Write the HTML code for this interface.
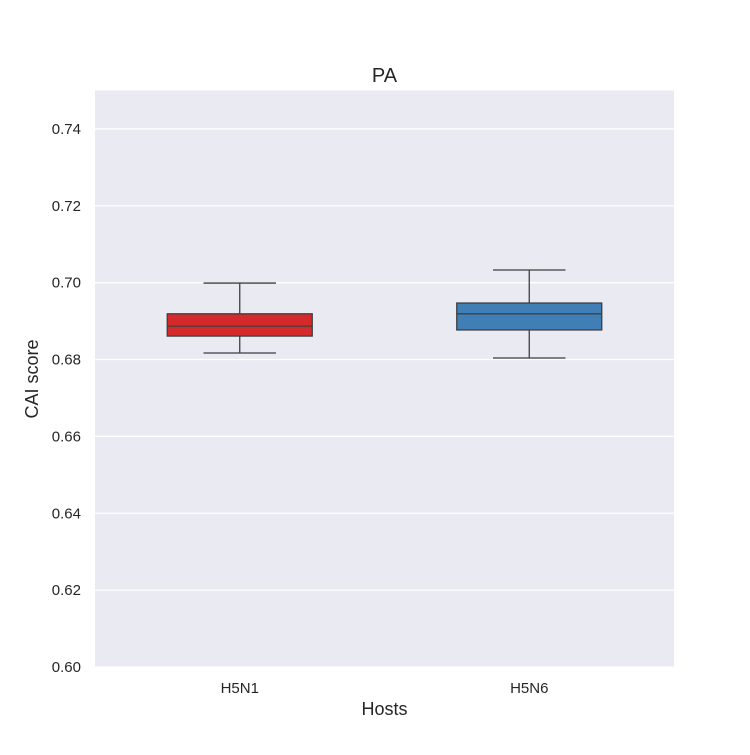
<!DOCTYPE html>
<html><head><meta charset="utf-8"><style>
body{margin:0;background:#fff;}
svg{font-family:"Liberation Sans","DejaVu Sans",sans-serif;}
</style></head><body>
<svg id="chart" width="750" height="750">
<rect x="0" y="0" width="750" height="750" fill="#fff"/>
<rect x="95" y="90.5" width="579" height="576.5" fill="#eaeaf2"/>
<g id="grid"></g>
<g id="boxes"></g>
<text x="384.5" y="82" text-anchor="middle" font-size="20" fill="#262626">PA</text>
<text x="384.5" y="715" text-anchor="middle" font-size="18" fill="#262626">Hosts</text>
<text x="38" y="379" text-anchor="middle" font-size="18" fill="#262626" transform="rotate(-90 38 379)">CAI score</text>
</svg>
<script>
const categories=["H5N1","H5N6"];
const whiskerLow=[0.6817,0.6804];
const q1=[0.6861,0.6877];
const median=[0.6887,0.6919];
const q3=[0.6919,0.6947];
const whiskerHigh=[0.6999,0.7033];
const yTicks=[0.60,0.62,0.64,0.66,0.68,0.70,0.72,0.74];
const colors=["#d42a2c","#3f7fb5"];
const NS="http://www.w3.org/2000/svg";
const y=v=>667-(v-0.60)/0.15*576.5;
const x=i=>95+579*(i+0.5)/categories.length;
const bw=145;
function mk(tag,attrs,parent){const e=document.createElementNS(NS,tag);for(const k in attrs)e.setAttribute(k,attrs[k]);parent.appendChild(e);return e;}
const grid=document.getElementById('grid');
const svg=document.getElementById('chart');
yTicks.forEach(t=>{
 const l=mk('line',{x1:95,x2:674,y1:y(t),y2:y(t),stroke:'#fff','stroke-width':1.3},grid);
 
 
 const tx=mk('text',{x:81,y:y(t)+5,'text-anchor':'end','font-size':15,fill:'#262626'},svg);
 tx.textContent=t.toFixed(2);
 
 
});
const boxes=document.getElementById('boxes');
categories.forEach((c,i)=>{
 const cx=x(i);
 const g=mk('g',{},boxes);
 
 
 const st={stroke:'#3f3f3f','stroke-width':1.3};
 mk('line',Object.assign({x1:cx,x2:cx,y1:y(whiskerHigh[i]),y2:y(q3[i])},st),g);
 mk('line',Object.assign({x1:cx,x2:cx,y1:y(q1[i]),y2:y(whiskerLow[i])},st),g);
 mk('line',Object.assign({x1:cx-bw/4,x2:cx+bw/4,y1:y(whiskerHigh[i]),y2:y(whiskerHigh[i])},st),g);
 mk('line',Object.assign({x1:cx-bw/4,x2:cx+bw/4,y1:y(whiskerLow[i]),y2:y(whiskerLow[i])},st),g);
 mk('rect',Object.assign({x:cx-bw/2,y:y(q3[i]),width:bw,height:y(q1[i])-y(q3[i]),fill:colors[i]},st),g);
 mk('line',Object.assign({x1:cx-bw/2,x2:cx+bw/2,y1:y(median[i]),y2:y(median[i])},st),g);
 const tx=mk('text',{x:cx,y:693,'text-anchor':'middle','font-size':15,fill:'#262626'},svg);
 tx.textContent=c;
 
 
});
</script>
</body></html>
